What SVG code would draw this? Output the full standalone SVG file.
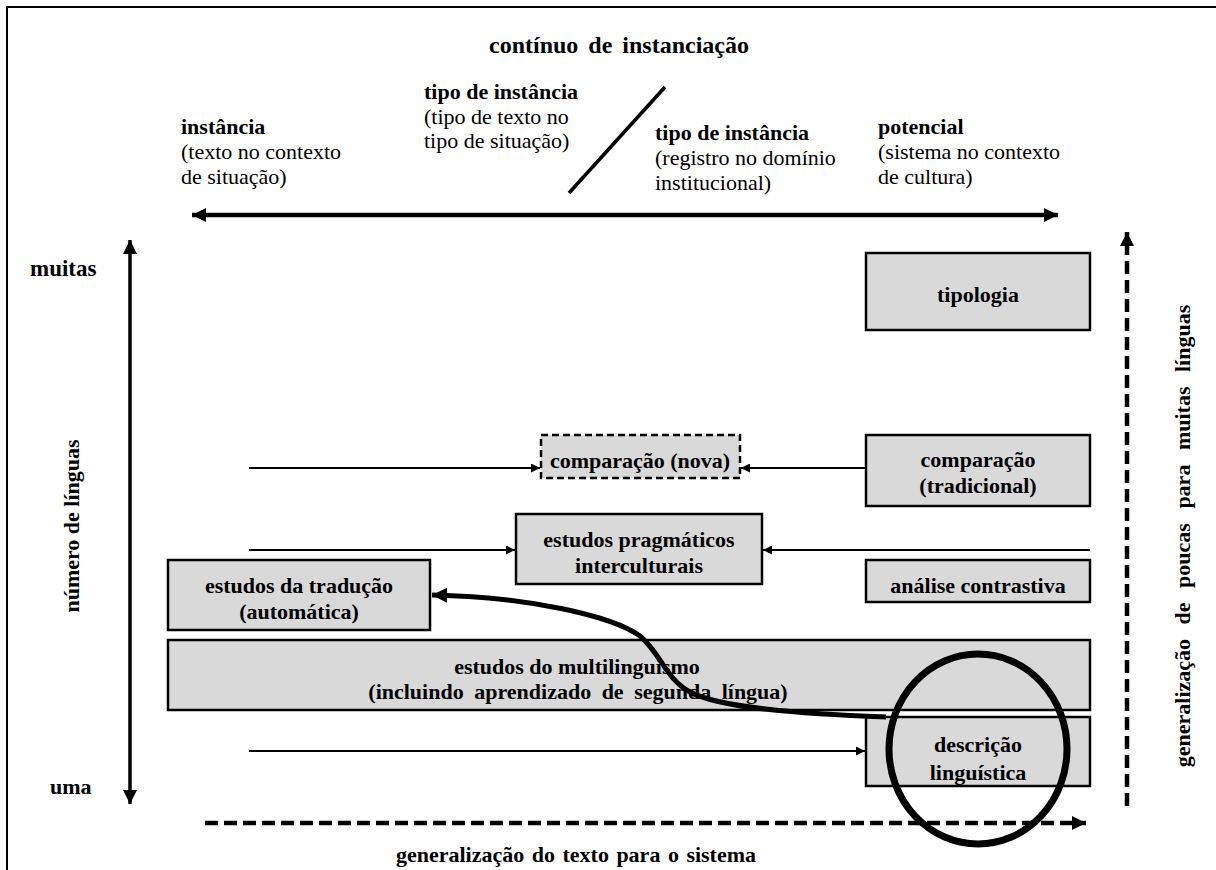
<svg xmlns="http://www.w3.org/2000/svg" width="1216" height="870" viewBox="0 0 1216 870">
  <style>
    .b { font-weight: bold; font-size: 22px; }
    .r { font-size: 22px; }
    .c { text-anchor: middle; }
    .box { fill: #d9d9d9; stroke: #000; stroke-width: 2.5; }
    .thin { stroke: #000; stroke-width: 2; fill: none; }
  </style>
  <defs>
    <marker id="headS" viewBox="0 0 10 10" refX="10" refY="5" markerWidth="10" markerHeight="9" markerUnits="userSpaceOnUse" orient="auto-start-reverse">
      <path d="M0 0 L10 5 L0 10 z" fill="#000"/>
    </marker>
    <marker id="headL" viewBox="0 0 10 10" refX="10" refY="5" markerWidth="15" markerHeight="14" markerUnits="userSpaceOnUse" orient="auto-start-reverse">
      <path d="M0 0 L10 5 L0 10 z" fill="#000"/>
    </marker>
    <marker id="headC" viewBox="0 0 10 10" refX="10" refY="5" markerWidth="16" markerHeight="15" markerUnits="userSpaceOnUse" orient="auto">
      <path d="M0 0 L10 5 L0 10 z" fill="#000"/>
    </marker>
  </defs>

  <rect width="1216" height="870" fill="#fff"/>
  <!-- frame edges -->
  <path d="M7 870 V7 H1216" fill="none" stroke="#000" stroke-width="2"/>

  <g font-family="Liberation Serif, Times New Roman, DejaVu Serif, serif" fill="#000">
  <!-- header: instantiation continuum -->
  <g id="header">
    <text class="b c" x="619" y="53" style="font-size:24px" word-spacing="4">contínuo de instanciação</text>
    <g id="instancia">
      <text class="b" x="181" y="134">instância</text>
      <text class="r" x="181" y="159">(texto no contexto</text>
      <text class="r" x="181" y="184">de situação)</text>
    </g>
    <g id="tipo-instancia-1">
      <text class="b" x="424" y="99">tipo de instância</text>
      <text class="r" x="424" y="124">(tipo de texto no</text>
      <text class="r" x="424" y="148">tipo de situação)</text>
    </g>
    <g id="tipo-instancia-2">
      <text class="b" x="655" y="140">tipo de instância</text>
      <text class="r" x="655" y="165">(registro no domínio</text>
      <text class="r" x="655" y="190">institucional)</text>
    </g>
    <g id="potencial">
      <text class="b" x="878" y="134">potencial</text>
      <text class="r" x="878" y="159">(sistema no contexto</text>
      <text class="r" x="878" y="184">de cultura)</text>
    </g>
    <line x1="569" y1="193" x2="665" y2="87" stroke="#000" stroke-width="3.5"/>
  </g>

  <!-- axes -->
  <g id="axes" fill="none" stroke="#000">
    <line x1="192" y1="215" x2="1058" y2="215" stroke-width="4.5" marker-start="url(#headL)" marker-end="url(#headL)"/>
    <line x1="130" y1="240" x2="130" y2="804" stroke-width="3.5" marker-start="url(#headL)" marker-end="url(#headL)"/>
    <line x1="1127" y1="806" x2="1127" y2="232" stroke-width="4.5" stroke-dasharray="13 6" marker-end="url(#headL)"/>
    <line x1="205" y1="823" x2="1086" y2="823" stroke-width="4.5" stroke-dasharray="13 6" marker-end="url(#headL)"/>
  </g>
  <g id="axis-labels">
    <text class="b" x="30" y="276" style="font-size:23px">muitas</text>
    <text class="b" x="50" y="794">uma</text>
    <text class="b c" transform="translate(79 526) rotate(-90)">número de línguas</text>
    <text class="b c" transform="translate(1190 536) rotate(-90)" word-spacing="9">generalização de poucas para muitas línguas</text>
    <text class="b c" x="576" y="862" word-spacing="2">generalização do texto para o sistema</text>
  </g>

  <!-- straight connectors -->
  <g id="connectors" class="thin">
    <line x1="249" y1="468" x2="540" y2="468" marker-end="url(#headS)"/>
    <line x1="866" y1="468" x2="741" y2="468" marker-end="url(#headS)"/>
    <line x1="249" y1="550" x2="515" y2="550" marker-end="url(#headS)"/>
    <line x1="1090" y1="550" x2="763" y2="550" marker-end="url(#headS)"/>
    <line x1="249" y1="751" x2="865" y2="751" marker-end="url(#headS)"/>
  </g>

  <!-- fields of study -->
  <g id="tipologia">
    <rect class="box" x="866" y="253" width="224" height="77"/>
    <text class="b c" x="978" y="302">tipologia</text>
  </g>
  <g id="comparacao-nova">
    <rect class="box" x="541" y="435" width="199" height="43" stroke-dasharray="7 4"/>
    <text class="b c" x="640" y="468">comparação (nova)</text>
  </g>
  <g id="comparacao-tradicional">
    <rect class="box" x="866" y="435" width="224" height="71"/>
    <text class="b c" x="978" y="467">comparação</text>
    <text class="b c" x="978" y="493">(tradicional)</text>
  </g>
  <g id="pragmaticos">
    <rect class="box" x="516" y="514" width="246" height="70"/>
    <text class="b c" x="639" y="547">estudos pragmáticos</text>
    <text class="b c" x="639" y="573">interculturais</text>
  </g>
  <g id="contrastiva">
    <rect class="box" x="866" y="560" width="224" height="42"/>
    <text class="b c" x="978" y="593">análise contrastiva</text>
  </g>
  <g id="traducao">
    <rect class="box" x="168" y="560" width="262" height="70"/>
    <text class="b c" x="299" y="593">estudos da tradução</text>
    <text class="b c" x="299" y="619">(automática)</text>
  </g>
  <g id="multilinguismo">
    <rect class="box" x="168" y="640" width="922" height="70"/>
    <text class="b c" x="577" y="674">estudos do multilinguismo</text>
    <text class="b c" x="578" y="699" word-spacing="5">(incluindo aprendizado de segunda língua)</text>
  </g>
  <g id="descricao">
    <rect class="box" x="866" y="717" width="224" height="69"/>
    <text class="b c" x="978" y="752">descrição</text>
    <text class="b c" x="978" y="780">linguística</text>
  </g>
  </g>

  <!-- highlight: from description back to translation studies -->
  <g id="highlight" fill="none" stroke="#000">
    <path d="M886 717 C800 714 720 708 690 692 C665 678 662 655 640 636 C612 616 530 597 432 595" stroke-width="5" marker-end="url(#headC)"/>
    <ellipse cx="978" cy="749" rx="89" ry="95" stroke-width="7"/>
  </g>
</svg>
